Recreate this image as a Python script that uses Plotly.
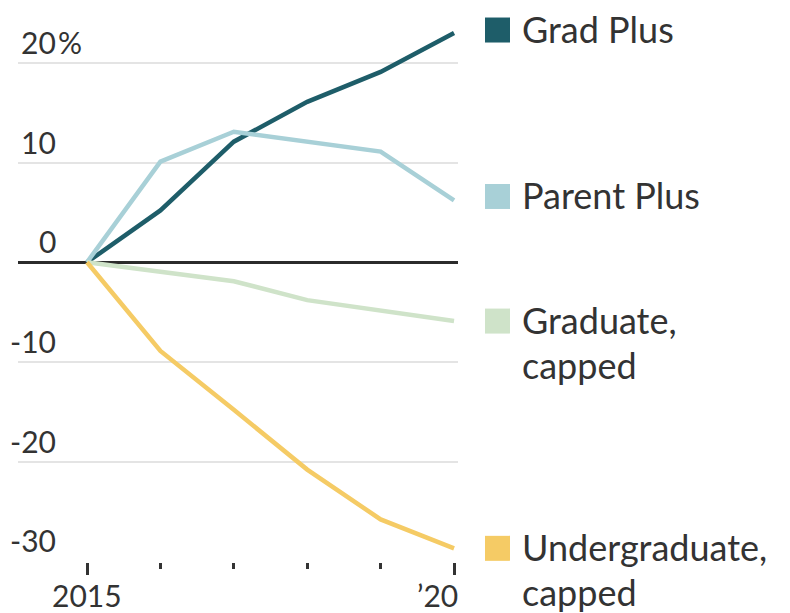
import plotly.graph_objects as go

years = [2015, 2016, 2017, 2018, 2019, 2020]
series_names = ["Grad Plus", "Parent Plus", "Graduate,\ncapped", "Undergraduate,\ncapped"]
grad_plus = [0, 5.2, 12.1, 16.1, 19.1, 23.0]
parent_plus = [0, 10.1, 13.1, 12.1, 11.1, 6.2]
graduate_capped = [0, -0.9, -1.9, -3.8, -4.8, -5.9]
undergrad_capped = [0, -8.9, -14.8, -20.8, -25.8, -28.7]
colors = ["#1e5d69", "#a8d0d7", "#cfe3c9", "#f5cb65"]
ytick_vals = [20, 10, 0, -10, -20, -30]
ytick_text = ["20", "10", "0", "-10", "-20", "-30"]
xtick_vals = [2015, 2020]
xtick_text = ["2015", "\u201920"]

all_series = [grad_plus, parent_plus, graduate_capped, undergrad_capped]
FONT = "Lato"
TXT = "#333333"

fig = go.Figure()
for name, vals, col in zip(series_names, all_series, colors):
    fig.add_trace(go.Scatter(x=years, y=vals, mode="lines", name=name,
                             line=dict(color=col, width=4.5), hoverinfo="skip"))

# page body has an 8px default margin; size the figure to fill the rest
W, H = 782, 605
left, right_px = 10, 450
fig.update_layout(
    width=W, height=H,
    margin=dict(l=left, r=W - right_px, t=0, b=51),
    plot_bgcolor="white", paper_bgcolor="white",
    showlegend=False,
    font=dict(family=FONT, color=TXT, size=30),
)
fig.update_xaxes(
    range=[2014.06, 2020.054], showgrid=False, zeroline=False, showline=False,
    tickvals=xtick_vals, ticktext=["", ""], ticks="outside", ticklen=12,
    tickwidth=2.5, tickcolor="#333333",
    minor=dict(tickvals=years[1:-1], ticks="outside", ticklen=6, tickwidth=2.5, tickcolor="#333333"),
)
fig.update_yaxes(
    range=[-30.07, 25.51], tickvals=ytick_vals, showticklabels=False,
    showgrid=True, gridcolor="#e4e4e4", gridwidth=2,
    zeroline=True, zerolinecolor="#2b2b2b", zerolinewidth=2.5, showline=False,
)

# y tick labels above gridlines
label_x = 40 / (right_px - left)
for v, t in zip(ytick_vals, ytick_text):
    fig.add_annotation(x=label_x, xref="paper", y=v, yref="y", text=t, showarrow=False,
                       xanchor="right", yanchor="bottom", yshift=1,
                       font=dict(family=FONT, size=30, color=TXT))
fig.add_annotation(x=label_x, xref="paper", y=ytick_vals[0], yref="y", text="%", showarrow=False,
                   xanchor="left", yanchor="bottom", yshift=1, xshift=-2,
                   font=dict(family=FONT, size=30, color=TXT))

# x tick labels
fig.add_annotation(x=xtick_vals[0], xref="x", y=0, yref="paper", text=xtick_text[0],
                   showarrow=False, xanchor="center", yanchor="top", yshift=-13,
                   font=dict(family=FONT, size=30, color=TXT))
fig.add_annotation(x=xtick_vals[1], xref="x", y=0, yref="paper", text=xtick_text[1],
                   showarrow=False, xanchor="right", yanchor="top", yshift=-13, xshift=6,
                   font=dict(family=FONT, size=30, color=TXT))

# end labels (legend)
offsets = [-3, -4, 0, 0]
for name, vals, col, off in zip(series_names, all_series, colors, offsets):
    yend = vals[-1]
    fig.add_shape(type="rect", xref="paper", yref="y", xsizemode="pixel", ysizemode="pixel",
                  xanchor=1, yanchor=yend, x0=27, x1=52,
                  y0=-12.5 - off, y1=12.5 - off, fillcolor=col, line=dict(width=0))
    for i, line in enumerate(name.split("\n")):
        fig.add_annotation(x=years[-1], xref="x", y=yend, yref="y", text=line, showarrow=False,
                           xanchor="left", yanchor="middle", xshift=66, yshift=-off - 45 * i + 1,
                           font=dict(family=FONT, size=36, color=TXT))

fig.write_html("out.html")
